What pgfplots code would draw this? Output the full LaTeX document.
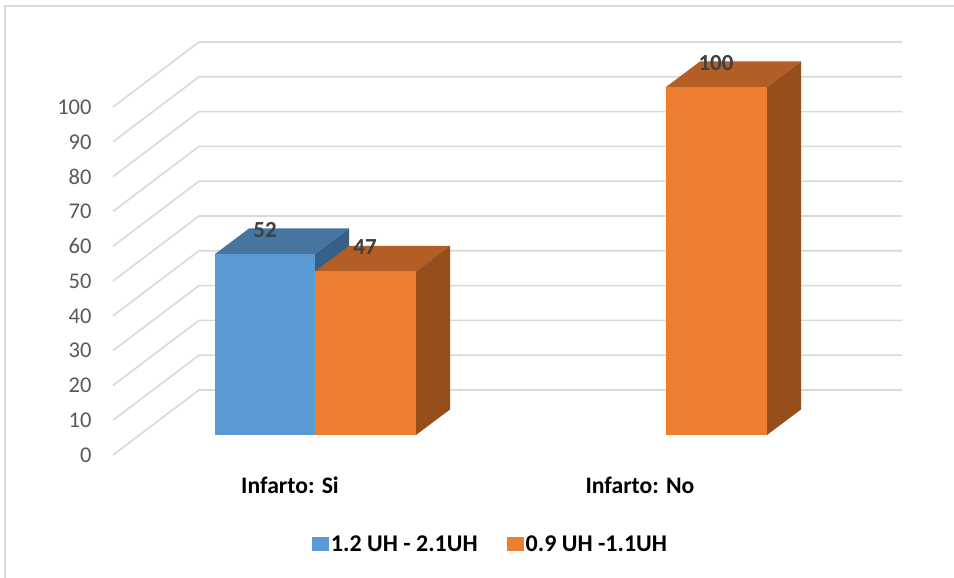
\documentclass[border=0pt]{standalone}
\usepackage{fontspec}
\setmainfont{Carlito}
\usepackage{pgfplots}
\pgfplotsset{compat=1.18}
\definecolor{blueF}{HTML}{5B9BD5}
\definecolor{blueT}{HTML}{46759F}
\definecolor{blueS}{HTML}{376087}
\definecolor{orangeF}{HTML}{ED7D31}
\definecolor{orangeT}{HTML}{B25E24}
\definecolor{orangeS}{HTML}{964F1B}
\definecolor{wall}{HTML}{D9D9D9}
\definecolor{ticktext}{HTML}{595959}
\definecolor{valtext}{HTML}{404040}
\pgfplotsset{gridline/.style={draw=wall,line width=1.6pt,no markers,forget plot}}
\begin{document}
\begin{tikzpicture}
\useasboundingbox (-113pt,-123pt) rectangle (841pt,455pt);
\fill[white] (-113pt,-123pt) rectangle (841pt,455pt);
% outer chart frame: top and left edges
\draw[wall,line width=2pt] (841pt,449pt) -- (-107.5pt,449pt) -- (-107.5pt,-123pt);

% walls and value scale
\begin{axis}[
  at={(0pt,0pt)}, anchor=origin,
  scale only axis, width=789pt, height=348pt,
  xmin=113, xmax=902, ymin=0, ymax=100,
  clip=false,
  axis line style={draw=none},
  major tick length=0pt,
  xtick={290,640},
  xticklabels={Infarto: Si,Infarto: No},
  ytick={0,10,...,100},
  /pgf/number format/assume math mode=true,
  yticklabel style={font=\fontsize{22.5}{24}\selectfont,text=ticktext,anchor=east,xshift=-18pt},
  xticklabel style={font=\fontsize{23.7}{25}\selectfont\bfseries,text=black,anchor=center,yshift=-30pt},
]
\addplot[gridline] coordinates {(113,0)(199,18.68)(902,18.68)};
\addplot[gridline] coordinates {(113,10)(199,28.68)(902,28.68)};
\addplot[gridline] coordinates {(113,20)(199,38.68)(902,38.68)};
\addplot[gridline] coordinates {(113,30)(199,48.68)(902,48.68)};
\addplot[gridline] coordinates {(113,40)(199,58.68)(902,58.68)};
\addplot[gridline] coordinates {(113,50)(199,68.68)(902,68.68)};
\addplot[gridline] coordinates {(113,60)(199,78.68)(902,78.68)};
\addplot[gridline] coordinates {(113,70)(199,88.68)(902,88.68)};
\addplot[gridline] coordinates {(113,80)(199,98.68)(902,98.68)};
\addplot[gridline] coordinates {(113,90)(199,108.68)(902,108.68)};
\addplot[gridline] coordinates {(113,100)(199,118.68)(902,118.68)};
\end{axis}

% boxes, standing on the front plane of the floor
\begin{axis}[
  at={(0pt,20pt)}, anchor=origin,
  scale only axis, width=789pt, height=348pt,
  xmin=113, xmax=902, ymin=0, ymax=100,
  clip=false, hide axis,
  legend columns=2,
  legend cell align=left,
  legend style={
    at={(axis cs:492,-31.3)}, anchor=center, draw=none, fill=none,
    font=\fontsize{24}{25}\selectfont\bfseries,
    /tikz/every even column/.append style={column sep=30pt},
    inner sep=0pt,
  },
  legend image code/.code={%
    \path (0pt,-7pt) rectangle (14pt,7pt);
    \begin{pgfinterruptboundingbox}\fill[#1] (-3pt,-7pt) rectangle (11pt,7pt);\end{pgfinterruptboundingbox}},
]
% top and side faces, first group
\addplot[fill=blueT,draw=none,forget plot] coordinates {(215,52)(315,52)(349,59.34)(249,59.34)} --cycle;
\addplot[fill=blueS,draw=none,forget plot] coordinates {(315,0)(349,7.34)(349,59.34)(315,52)} --cycle;
\addplot[fill=orangeT,draw=none,forget plot] coordinates {(315,47)(416,47)(450,54.34)(349,54.34)} --cycle;
\addplot[fill=orangeS,draw=none,forget plot] coordinates {(416,0)(450,7.34)(450,54.34)(416,47)} --cycle;
% top and side faces, second group
\addplot[fill=orangeT,draw=none,forget plot] coordinates {(666,100)(767,100)(801,107.34)(700,107.34)} --cycle;
\addplot[fill=orangeS,draw=none,forget plot] coordinates {(767,0)(801,7.34)(801,107.34)(767,100)} --cycle;
% front faces
\addplot[fill=blueF,draw=none] coordinates {(215,0)(315,0)(315,52)(215,52)} --cycle;
\addlegendentry{1.2 UH - 2.1UH}
\addplot[fill=orangeF,draw=none] coordinates {(315,0)(416,0)(416,47)(315,47)} --cycle;
\addlegendentry{0.9 UH -1.1UH}
\addplot[fill=orangeF,draw=none,forget plot] coordinates {(666,0)(767,0)(767,100)(666,100)} --cycle;
% value labels, sitting on the rear edge of each top face
\addplot[draw=none,no markers,forget plot,
  point meta=explicit,
  nodes near coords,
  every node near coord/.append style={
    anchor=center,yshift=24pt,text=valtext,
    font=\fontsize{23}{24}\selectfont\bfseries,
    /pgf/number format/assume math mode=true},
] coordinates {(265,52)[52] (365,47)[47] (716,100)[100]};
\end{axis}
\end{tikzpicture}
\end{document}
